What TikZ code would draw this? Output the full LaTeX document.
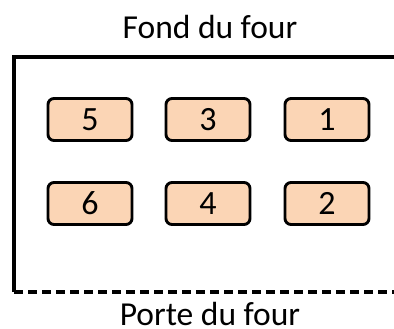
\documentclass[tikz,border=0pt]{standalone}
\usepackage{fontspec}
\setmainfont{Carlito}
\usepackage{tikz}
\definecolor{peach}{HTML}{FBD5B5}

\begin{document}
\begin{tikzpicture}[x=1pt,y=-1pt,
		tray/.style={draw,line width=2.9pt,rounded corners=6pt,fill=peach,
			minimum width=84pt,minimum height=42pt,inner sep=0pt,font=\fontsize{34}{34}\selectfont},
		label/.style={font=\fontsize{33.5}{34}\selectfont,anchor=base}]
			% 图的边界
			\useasboundingbox (0,0) rectangle (394,329);
			% 炉子的三面墙,下面虚线是门
			\coordinate (tl) at (14,57);
			\coordinate (tr) at (395,57);
			\coordinate (bl) at (14,292);
			\coordinate (br) at (395,292);
			\draw[line width=3.4pt](tr) -- (tl) -- (bl);
			\draw[line width=3.4pt,dash pattern=on 9pt off 5pt](bl) -- (br);
			\node[label] (fond) at (210,39) {Fond du four};
			\node[label] (porte) at (210,325) {Porte du four};
			% 六个位置,上排 5 3 1,下排 6 4 2
			\node[tray] (p5) at (90,119.5) {5};
			\node[tray] (p3) at (208,119.5) {3};
			\node[tray] (p1) at (327,119.5) {1};
			\node[tray] (p6) at (90,203.5) {6};
			\node[tray] (p4) at (208,203.5) {4};
			\node[tray] (p2) at (327,203.5) {2};
		\end{tikzpicture}
\end{document}
